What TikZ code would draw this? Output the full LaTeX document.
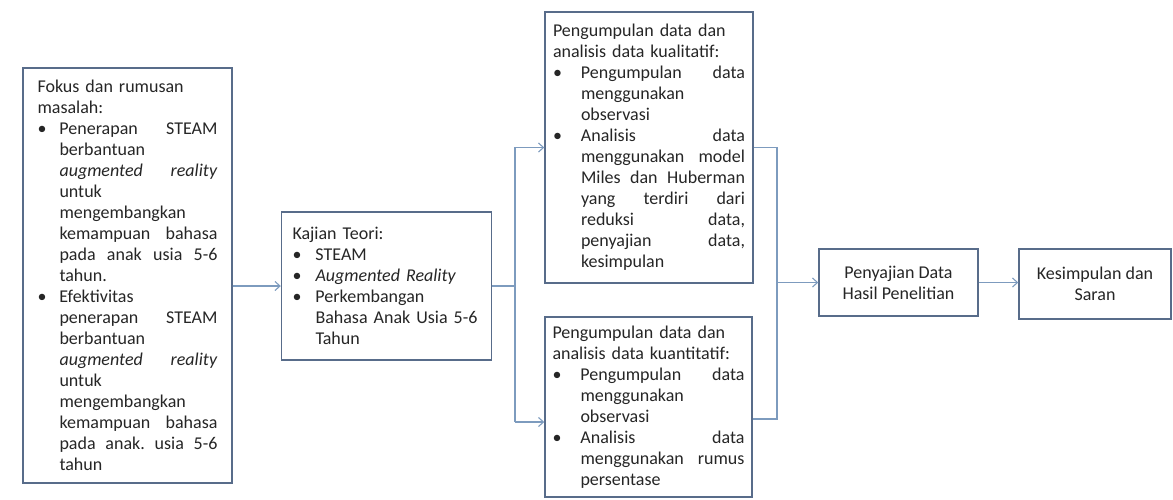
\documentclass[tikz,border=0pt]{standalone}
\usepackage{fontspec}
\setmainfont{Carlito}
\usepackage{tikz}
\usetikzlibrary{arrows.meta}

\definecolor{boxline}{RGB}{88,108,138}
\definecolor{arrline}{RGB}{125,155,190}
\definecolor{txt}{RGB}{38,38,38}

\newcommand{\bitem}[1]{\makebox[#1][l]{\textbullet}}
\newcommand{\bskip}[1]{\hspace*{#1}}

\begin{document}
\begin{tikzpicture}[x=1pt,y=-1pt,
  box/.style={draw=boxline,line width=1.4pt,fill=white,text=txt,
    font=\fontsize{18}{21}\selectfont,inner sep=0pt},
  conn/.style={draw=arrline,line width=1.1pt},
  >={Straight Barb[length=5pt,width=9pt]}]
  \useasboundingbox (0,0) rectangle (1173,499);

  % boxes
  \node[box,minimum width=209pt,minimum height=415pt,text width=180pt,align=left]
    (fokus) at (127.5,275.5) {Fokus dan rumusan\\
    masalah:\\
    \bitem{22pt}Penerapan\hfill STEAM\\
    \bskip{22pt}berbantuan\\
    \bskip{22pt}\textit{augmented}\hfill\textit{reality}\\
    \bskip{22pt}untuk\\
    \bskip{22pt}mengembangkan\\
    \bskip{22pt}kemampuan\hfill bahasa\\
    \bskip{22pt}pada\hfill anak\hfill usia\hfill 5-6\\
    \bskip{22pt}tahun.\\
    \bitem{22pt}Efektivitas\\
    \bskip{22pt}penerapan\hfill STEAM\\
    \bskip{22pt}berbantuan\\
    \bskip{22pt}\textit{augmented}\hfill\textit{reality}\\
    \bskip{22pt}untuk\\
    \bskip{22pt}mengembangkan\\
    \bskip{22pt}kemampuan\hfill bahasa\\
    \bskip{22pt}pada\hfill anak.\hfill usia\hfill 5-6\\
    \bskip{22pt}tahun};
  \node[box,minimum width=210pt,minimum height=148pt,text width=188pt,align=left]
    (kajian) at (386.5,286) {Kajian Teori:\\
    \bitem{23pt}STEAM\\
    \bitem{23pt}\textit{Augmented Reality}\\
    \bitem{23pt}Perkembangan\\
    \bskip{23pt}Bahasa Anak Usia 5-6\\
    \bskip{23pt}Tahun};
  \node[box,minimum width=208pt,minimum height=271pt,text width=192pt,align=left]
    (kualitatif) at (649,147.5) {Pengumpulan data dan\\
    analisis data kualitatif:\\
    \bitem{28pt}Pengumpulan\hfill data\\
    \bskip{28pt}menggunakan\\
    \bskip{28pt}observasi\\
    \bitem{28pt}Analisis\hfill data\\
    \bskip{28pt}menggunakan\hfill model\\
    \bskip{28pt}Miles\hfill dan\hfill Huberman\\
    \bskip{28pt}yang\hfill terdiri\hfill dari\\
    \bskip{28pt}reduksi\hfill data,\\
    \bskip{28pt}penyajian\hfill data,\\
    \bskip{28pt}kesimpulan};
  \node[box,minimum width=207pt,minimum height=180pt,text width=192pt,align=left]
    (kuantitatif) at (648.5,407) {Pengumpulan data dan\\
    analisis data kuantitatif:\\
    \bitem{28pt}Pengumpulan\hfill data\\
    \bskip{28pt}menggunakan\\
    \bskip{28pt}observasi\\
    \bitem{28pt}Analisis\hfill data\\
    \bskip{28pt}menggunakan\hfill rumus\\
    \bskip{28pt}persentase};
  \node[box,minimum width=159pt,minimum height=67pt,align=center]
    (penyajian) at (898.5,282.5) {Penyajian Data\\Hasil Penelitian};
  \node[box,minimum width=152pt,minimum height=70pt,align=center]
    (simpulan) at (1095,284) {Kesimpulan dan\\Saran};

  % connectors
  \coordinate (split) at (515,0);
  \coordinate (merge) at (777,0);
  \coordinate (kuanin) at ([yshift=-15pt]kuantitatif.west);
  \coordinate (kuanout) at ([yshift=-12pt]kuantitatif.east);

  \draw[conn,->] (fokus.east |- kajian.west) -- (kajian.west);
  \draw[conn] (kajian.east) -- (split |- kajian.east);
  \draw[conn,->] (split |- kuanin) -- (split |- kualitatif.west) -- (kualitatif.west);
  \draw[conn,->] (split |- kuanin) -- (kuanin);
  \draw[conn] (kualitatif.east) -- (merge |- kualitatif.east) -- (merge |- kuanout) -- (kuanout);
  \draw[conn,->] (merge |- penyajian.west) -- (penyajian.west);
  \draw[conn,->] (penyajian.east) -- (penyajian.east -| simpulan.west);
\end{tikzpicture}
\end{document}
